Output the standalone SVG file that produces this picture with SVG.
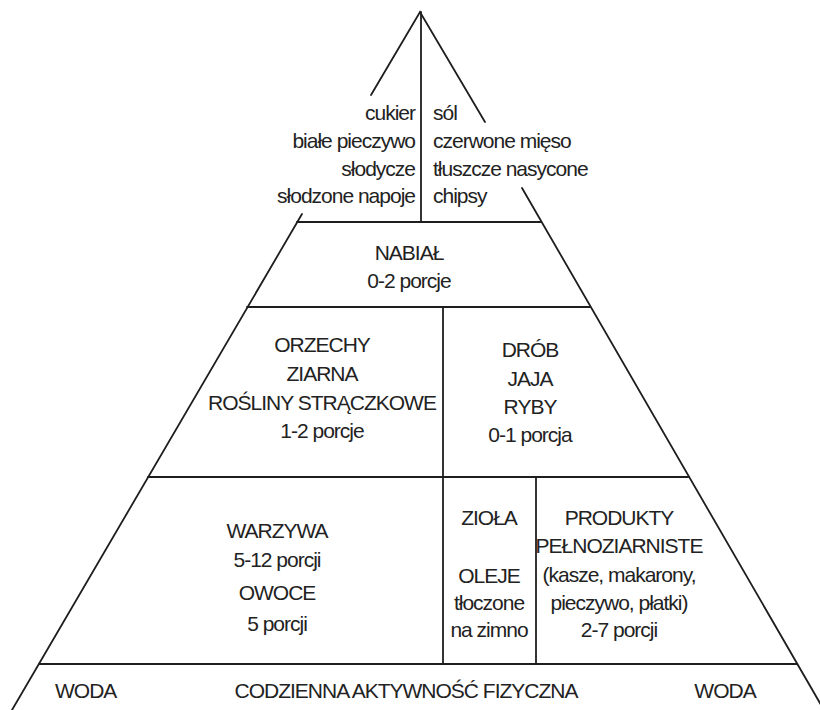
<svg xmlns="http://www.w3.org/2000/svg" width="820" height="710" viewBox="0 0 820 710">
<style>
.ln{stroke:#1e1e1e;stroke-width:1.8;fill:none;stroke-linecap:round}
text{font-family:"Liberation Sans",Arial,sans-serif;font-size:21px;fill:#222;letter-spacing:-1px}
.c{text-anchor:middle}
.r{text-anchor:end}
</style>
<rect width="820" height="710" fill="#fff"/>
<g id="lines">
<polyline class="ln" points="371,95 420,12 485,122"/>
<line class="ln" x1="302" y1="214" x2="12" y2="710"/>
<line class="ln" x1="522" y1="188" x2="824" y2="710"/>
<line class="ln" x1="421" y1="12" x2="421" y2="222"/>
<line class="ln" x1="297" y1="222" x2="541" y2="222"/>
<line class="ln" x1="247" y1="307" x2="590" y2="307"/>
<line class="ln" x1="148" y1="477" x2="689" y2="477"/>
<line class="ln" x1="39" y1="664" x2="797" y2="664"/>
<line class="ln" x1="443" y1="307" x2="443" y2="664"/>
<line class="ln" x1="536" y1="477" x2="536" y2="664"/>
</g>
<g id="top-left">
<text class="r" x="415" y="120">cukier</text>
<text class="r" x="415" y="148">białe pieczywo</text>
<text class="r" x="415" y="176">słodycze</text>
<text class="r" x="415" y="203">słodzone napoje</text>
</g>
<g id="top-right">
<text x="433" y="120">sól</text>
<text x="433" y="148">czerwone mięso</text>
<text x="433" y="176">tłuszcze nasycone</text>
<text x="433" y="203">chipsy</text>
</g>
<g id="nabial">
<text class="c" x="409" y="260">NABIAŁ</text>
<text class="c" x="409" y="288">0-2 porcje</text>
</g>
<g id="orzechy">
<text class="c" x="322" y="352">ORZECHY</text>
<text class="c" x="322" y="381">ZIARNA</text>
<text class="c" x="322" y="410">ROŚLINY STRĄCZKOWE</text>
<text class="c" x="322" y="438">1-2 porcje</text>
</g>
<g id="drob">
<text class="c" x="530" y="357">DRÓB</text>
<text class="c" x="530" y="386">JAJA</text>
<text class="c" x="530" y="414">RYBY</text>
<text class="c" x="530" y="442">0-1 porcja</text>
</g>
<g id="warzywa">
<text class="c" x="277" y="538">WARZYWA</text>
<text class="c" x="277" y="567">5-12 porcji</text>
<text class="c" x="277" y="600">OWOCE</text>
<text class="c" x="277" y="631">5 porcji</text>
</g>
<g id="ziola">
<text class="c" x="489" y="525">ZIOŁA</text>
<text class="c" x="489" y="583">OLEJE</text>
<text class="c" x="489" y="610">tłoczone</text>
<text class="c" x="489" y="637">na zimno</text>
</g>
<g id="produkty">
<text class="c" x="619" y="525">PRODUKTY</text>
<text class="c" x="619" y="553">PEŁNOZIARNISTE</text>
<text class="c" x="619" y="582">(kasze, makarony,</text>
<text class="c" x="619" y="610">pieczywo, płatki)</text>
<text class="c" x="619" y="637">2-7 porcji</text>
</g>
<g id="bottom">
<text x="55" y="698">WODA</text>
<text class="c" x="406" y="698">CODZIENNA AKTYWNOŚĆ FIZYCZNA</text>
<text class="c" x="725" y="698">WODA</text>
</g>
</svg>
